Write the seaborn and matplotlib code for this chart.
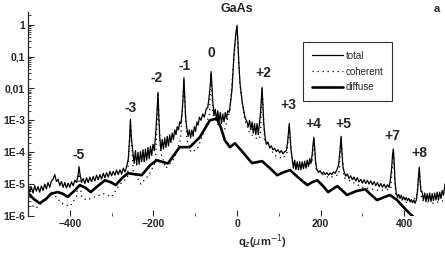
import numpy as np
import pandas as pd
import seaborn as sns
import matplotlib.pyplot as plt
from matplotlib.ticker import FixedLocator, FixedFormatter, LogLocator, NullFormatter

# values as (q_z, log10 intensity) pairs
total_pts = [
    (-500, -5.05), (-496, -5.25), (-492, -5.1), (-488, -5.28), (-484, -5.05), (-480, -5.22),
    (-476, -5.08), (-472, -5.25), (-468, -5.06), (-464, -5.2), (-460, -5.0), (-456, -5.15),
    (-452, -4.95), (-448, -5.1), (-444, -4.9), (-440, -4.85), (-436, -4.7), (-432, -4.92),
    (-428, -4.85), (-424, -5.05), (-420, -4.92), (-416, -5.1), (-412, -4.95), (-408, -5.12),
    (-404, -4.97), (-400, -5.1), (-396, -4.93), (-392, -5.05), (-388, -4.88), (-384, -4.95),
    (-380, -4.7), (-378, -4.45), (-376, -4.65), (-372, -4.95), (-368, -4.82), (-364, -4.98),
    (-360, -4.8), (-356, -4.95), (-352, -4.78), (-348, -4.92), (-344, -4.76), (-340, -4.9),
    (-336, -4.72), (-332, -4.86), (-328, -4.7), (-324, -4.84), (-320, -4.66), (-316, -4.8),
    (-312, -4.64), (-308, -4.78), (-304, -4.6), (-300, -4.74), (-296, -4.6), (-292, -4.72),
    (-288, -4.56), (-284, -4.7), (-280, -4.55), (-276, -4.68), (-272, -4.5), (-268, -4.62),
    (-264, -4.45), (-260, -4.2), (-257, -3.6), (-255, -2.97), (-253, -3.5), (-250, -3.9),
    (-246, -4.35), (-243, -3.95), (-240, -4.4), (-237, -4.0), (-234, -4.38), (-231, -3.98),
    (-228, -4.3), (-225, -3.92), (-222, -4.3), (-219, -3.9), (-216, -4.25), (-213, -3.85),
    (-210, -4.2), (-207, -3.82), (-204, -4.1), (-201, -3.75), (-198, -3.95), (-195, -3.5),
    (-192, -2.9), (-189, -2.12), (-187, -2.9), (-185, -3.5),
    (-182, -3.95), (-179, -3.6), (-176, -3.9), (-173, -3.55), (-170, -3.85), (-167, -3.5),
    (-164, -3.8), (-161, -3.45), (-158, -3.7), (-155, -3.4), (-152, -3.6), (-149, -3.3),
    (-146, -3.45), (-143, -3.2), (-140, -3.3), (-137, -3.05), (-134, -3.1), (-131, -2.7),
    (-129, -2.3), (-127, -1.66), (-125, -2.3), (-123, -2.9),
    (-120, -3.25), (-117, -3.5), (-114, -3.3), (-111, -3.55), (-108, -3.3), (-105, -3.5),
    (-102, -3.2), (-99, -3.35), (-96, -3.05), (-93, -3.15), (-90, -2.9), (-86, -3.0),
    (-82, -2.8), (-78, -2.9), (-74, -2.65), (-70, -2.6), (-67, -2.3), (-64, -1.9),
    (-62, -1.47), (-60, -1.9), (-58, -2.4),
    (-55, -2.85), (-52, -2.65), (-49, -3.0), (-46, -2.7), (-43, -3.05), (-40, -2.75),
    (-37, -3.1), (-34, -2.8), (-31, -3.05), (-28, -2.75), (-25, -2.95), (-22, -2.7),
    (-19, -2.75), (-17, -2.6), (-12, -2.05), (-7, -0.9), (-3, -0.3), (0, -0.02),
    (2, -0.5), (4, -1.1), (7, -1.8), (12, -2.4), (19, -2.9), (24, -3.05),
    (27, -3.2), (30, -3.0), (33, -3.3), (36, -3.05), (39, -3.4), (42, -3.1),
    (45, -3.45), (48, -3.1), (51, -3.45), (54, -3.05), (56, -2.8), (58, -2.4),
    (60, -1.97), (62, -2.5), (64, -3.1),
    (67, -3.5), (70, -3.75), (74, -3.68), (78, -3.85), (82, -3.8), (86, -3.92),
    (90, -3.88), (94, -3.98), (98, -3.92), (102, -4.02), (106, -3.95), (110, -4.05),
    (114, -3.98), (118, -3.95), (121, -3.7), (123, -3.4), (125, -3.1), (127, -3.5),
    (129, -3.9),
    (132, -4.2), (135, -4.5), (138, -4.25), (141, -4.55), (144, -4.3), (147, -4.55),
    (150, -4.3), (153, -4.55), (156, -4.3), (159, -4.52), (162, -4.28), (165, -4.5),
    (168, -4.25), (171, -4.45), (174, -4.2), (177, -4.35), (180, -4.05), (182, -3.75),
    (184, -3.53), (186, -3.9), (188, -4.3),
    (191, -4.55), (195, -4.62), (199, -4.58), (203, -4.68), (207, -4.62), (211, -4.7),
    (215, -4.64), (219, -4.72), (223, -4.65), (227, -4.7), (231, -4.62), (235, -4.66),
    (239, -4.55), (243, -4.4), (246, -4.0), (249, -3.5), (251, -4.0), (253, -4.4),
    (256, -4.6), (260, -4.75), (264, -4.68), (268, -4.82), (272, -4.74), (276, -4.86),
    (280, -4.78), (284, -4.9), (288, -4.8), (292, -4.93), (296, -4.85), (300, -4.97),
    (304, -4.86), (308, -4.98), (312, -4.88), (316, -5.0), (320, -4.9), (324, -5.02),
    (328, -4.92), (332, -5.05), (336, -4.95), (340, -5.08), (344, -4.98), (348, -5.1),
    (352, -5.0), (356, -5.12), (360, -5.02), (364, -5.1), (367, -4.85), (370, -4.5),
    (372, -4.1), (374, -3.9), (376, -4.3), (378, -4.9),
    (381, -5.3), (384, -5.4), (387, -5.32), (390, -5.45), (393, -5.35), (396, -5.48),
    (399, -5.4), (402, -5.5), (405, -5.42), (408, -5.52), (411, -5.45), (414, -5.55),
    (417, -5.48), (420, -5.58), (423, -5.5), (426, -5.6), (429, -5.5), (432, -5.2),
    (434, -4.8), (436, -4.47), (438, -4.9), (440, -5.2),
    (443, -5.25), (446, -5.5), (449, -5.28), (452, -5.55), (455, -5.3), (458, -5.52),
    (461, -5.28), (464, -5.55), (467, -5.3), (470, -5.52), (473, -5.28), (476, -5.5),
    (479, -5.25), (482, -5.5), (485, -5.25), (488, -5.45), (491, -5.2), (494, -5.35),
    (497, -5.05), (500, -4.9),
]

coherent_pts = [
    (-500, -5.6), (-480, -5.75), (-460, -5.5), (-440, -5.3), (-420, -5.6), (-400, -5.7),
    (-384, -5.4), (-378, -4.6), (-372, -5.4), (-360, -5.5), (-340, -5.4), (-320, -5.3),
    (-300, -5.4), (-280, -5.0), (-262, -4.8), (-255, -3.1), (-248, -4.6), (-230, -5.0),
    (-210, -4.7), (-195, -4.3), (-189, -2.2), (-183, -4.0), (-170, -4.5), (-150, -4.2),
    (-135, -3.6), (-127, -1.7), (-120, -3.6), (-110, -4.0), (-95, -3.9), (-80, -3.4),
    (-66, -2.8), (-62, -1.5), (-58, -2.8), (-48, -3.1), (-30, -3.3), (-17, -2.7),
    (-7, -0.95), (0, -0.05), (7, -1.9), (19, -3.0), (30, -3.4), (50, -3.6),
    (56, -3.5), (60, -2.0), (66, -3.6), (90, -4.1), (110, -4.2), (120, -4.0),
    (125, -3.15), (132, -4.3), (160, -4.5), (180, -4.3), (184, -3.6), (190, -4.6),
    (220, -4.8), (244, -4.7), (249, -3.55), (256, -4.8), (300, -5.1), (340, -5.2),
    (368, -5.15), (374, -3.95), (380, -5.4), (410, -5.6), (430, -5.4), (436, -4.5),
    (442, -5.5), (470, -5.6), (500, -5.5),
]

diffuse_pts = [
    (-500, -5.28), (-486, -5.47), (-472, -5.6), (-457, -5.47), (-445, -5.3), (-429, -5.25),
    (-417, -5.3), (-405, -5.4), (-390, -5.22), (-376, -5.03), (-362, -5.12), (-350, -5.25),
    (-333, -5.06), (-316, -4.88), (-302, -4.94), (-290, -5.03), (-275, -4.81), (-261, -4.66),
    (-244, -4.69), (-228, -4.72), (-208, -4.41), (-192, -4.25), (-177, -4.31), (-165, -4.35),
    (-151, -4.09), (-137, -3.84), (-113, -3.84), (-89, -3.53), (-65, -3.0), (-48, -2.94),
    (-38, -3.25), (-29, -3.63), (-17, -3.84), (-5, -3.72), (10, -3.94), (24, -4.16),
    (36, -4.34), (48, -4.31), (60, -4.28), (79, -4.5), (96, -4.72), (113, -4.62),
    (127, -4.56), (148, -4.81), (168, -5.03), (180, -4.94), (192, -4.88), (206, -5.06),
    (218, -5.25), (240, -5.06), (251, -5.19), (263, -5.34), (285, -5.22), (307, -5.16),
    (321, -5.34), (335, -5.5), (352, -5.41), (366, -5.34), (383, -5.5), (398, -5.72),
    (410, -5.88), (422, -6.03),
]

peak_names = ['-5', '-3', '-2', '-1', '0', '+2', '+3', '+4', '+5', '+7', '+8']
name_q = [-378, -254, -192, -125, -62, 62, 122, 182, 254, 371, 436]
name_log = [-4.09, -2.6, -1.66, -1.31, -0.875, -1.53, -2.53, -3.1, -3.1, -3.5, -4.03]

sns.set_style('ticks')
plt.rcParams['font.family'] = ['Liberation Sans', 'DejaVu Sans']

fig = plt.figure(figsize=(4.45, 2.56), dpi=100)
ax = fig.add_axes([28 / 445, 1 - 216 / 256, 418 / 445, 204 / 256])


def to_frame(pts):
    q, lv = zip(*pts)
    return pd.DataFrame({'q': q, 'I': 10 ** np.array(lv)})


sns.lineplot(data=to_frame(total_pts), x='q', y='I', color='black', lw=0.9, sort=False,
             ax=ax, label='total')
sns.lineplot(data=to_frame(coherent_pts), x='q', y='I', color='black', lw=0.9, sort=False,
             ax=ax, label='coherent', linestyle=(0, (1, 3)))
sns.lineplot(data=to_frame(diffuse_pts), x='q', y='I', color='black', lw=1.9, sort=False,
             ax=ax, label='diffuse')

ax.set_yscale('log')
ax.set_xlim(-500, 500)
ax.set_ylim(1e-6, 2.5)

yt = [1e-6, 1e-5, 1e-4, 1e-3, 1e-2, 1e-1, 1]
ax.yaxis.set_major_locator(FixedLocator(yt))
ax.yaxis.set_major_formatter(FixedFormatter(['1E-6', '1E-5', '1E-4', '1E-3', '0,01', '0,1', '1']))
ax.yaxis.set_minor_locator(LogLocator(base=10, subs=np.arange(2, 10), numticks=20))
ax.yaxis.set_minor_formatter(NullFormatter())
ax.set_xticks([-400, -200, 0, 200, 400])
ax.set_xticks([-300, -100, 100, 300], minor=True)

ax.tick_params(axis='both', which='major', direction='in', length=4, width=0.8,
               labelsize=7.5, pad=2)
ax.tick_params(axis='both', which='minor', direction='in', length=2, width=0.6)
for lbl in ax.get_xticklabels() + ax.get_yticklabels():
    lbl.set_fontweight('bold')

for s in ['top', 'right', 'bottom']:
    ax.spines[s].set_visible(False)
ax.spines['left'].set_linewidth(0.9)

ax.set_xlabel(r'q$_z$($\mu$m$^{-1}$)', fontsize=8, fontweight='bold')
ax.xaxis.set_label_coords((262 - 28) / 418, -0.08)
ax.set_ylabel('')

for name, q, lv in zip(peak_names, name_q, name_log):
    ax.text(q, 10 ** lv, name, ha='center', va='center', fontsize=10, fontweight='bold')

leg = ax.legend(loc='upper left', bbox_to_anchor=(0.658, 0.853), borderaxespad=0, fontsize=7,
                frameon=True, fancybox=False, handlelength=3.2, borderpad=0.9, labelspacing=0.6,
                handletextpad=0.3)
leg.get_frame().set_edgecolor('black')
leg.get_frame().set_linewidth(0.8)

fig.text(237 / 445, 1 - 9 / 256, 'GaAs', ha='center', va='center', fontsize=9, fontweight='bold')
fig.text(437 / 445, 1 - 9 / 256, 'a', ha='center', va='center', fontsize=8, fontweight='bold')

fig.savefig('out.png', dpi=100)
